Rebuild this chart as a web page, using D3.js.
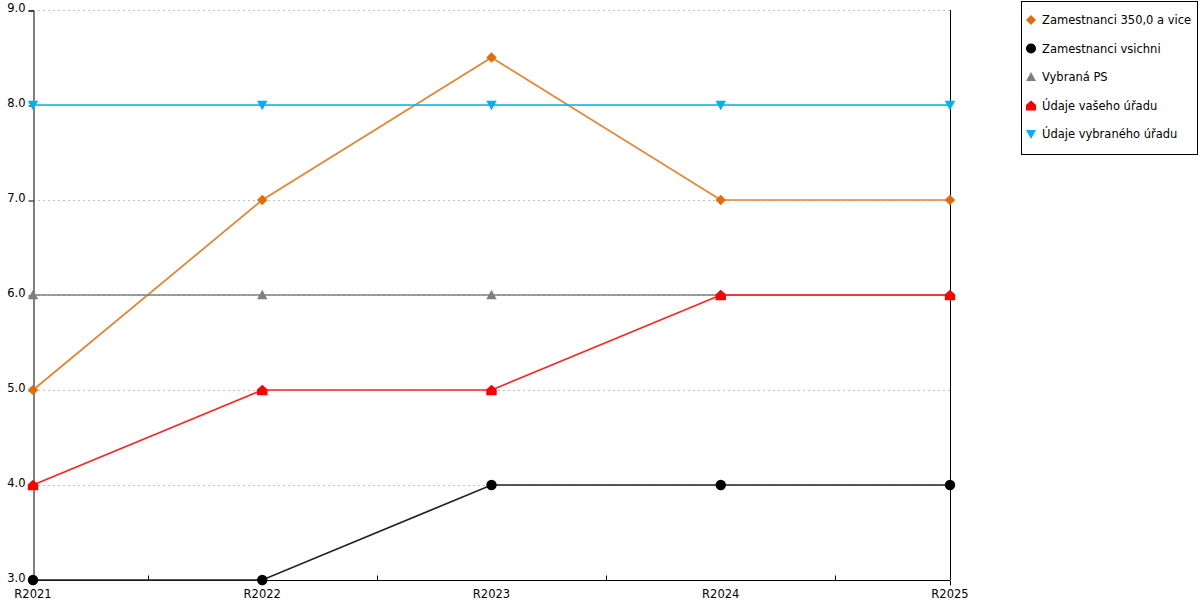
<!DOCTYPE html>
<html>
<head>
<meta charset="utf-8">
<script src="https://cdn.jsdelivr.net/npm/d3@7"></script>
<style>
  body { margin: 0; background: #fff; }
  text { font-family: "DejaVu Sans", sans-serif; font-size: 11.5px; fill: #000; }
</style>
</head>
<body>
<div id="chart"></div>
<script>
const width = 1200;
const height = 600;

// data
const categories = ["R2021", "R2022", "R2023", "R2024", "R2025"];
const seriesNames = ["Zamestnanci 350,0 a vice", "Zamestnanci vsichni", "Vybraná PS", "Údaje vašeho úřadu", "Údaje vybraného úřadu"];
const zam350 = [5, 7, 8.5, 7, 7];
const zamVsichni = [3, 3, 4, 4, 4];
const vybranaPS = [6, 6, 6, 6, 6];
const vasUrad = [4, 5, 5, 6, 6];
const vybranyUrad = [8, 8, 8, 8, 8];
const yTicks = [3, 4, 5, 6, 7, 8, 9];

const colors = ["#E36C0A", "#000000", "#7F7F7F", "#FF0000", "#00B0F0"];
const lineColors = ["#E8822E", "#222222", "#7F7F7F", "#FF2020", "#00B0F0"];
const shapes = ["diamond", "circle", "triangle", "house", "down"];
const seriesValues = [zam350, zamVsichni, vybranaPS, vasUrad, vybranyUrad];

const margin = { left: 33, right: 250, top: 10, bottom: 20 };

const svg = d3.select("#chart")
    .append("svg")
    .attr("width", width)
    .attr("height", height);

const x = d3.scalePoint()
    .domain(categories)
    .range([margin.left, width - margin.right]);

const y = d3.scaleLinear()
    .domain([3, 9])
    .range([height - margin.bottom, margin.top]);

// grid
svg.append("g")
    .selectAll("line")
    .data(yTicks.slice(1))
    .enter().append("line")
    .attr("x1", margin.left)
    .attr("x2", width - margin.right)
    .attr("y1", d => y(d) + 0.5)
    .attr("y2", d => y(d) + 0.5)
    .attr("stroke", "#c0c0c0")
    .attr("stroke-dasharray", "2,3");

// right border
svg.append("line")
    .attr("x1", width - margin.right + 0.5)
    .attr("x2", width - margin.right + 0.5)
    .attr("y1", margin.top)
    .attr("y2", height - margin.bottom)
    .attr("stroke", "#000");

// y axis
const yAxis = svg.append("g")
    .attr("transform", `translate(${margin.left + 0.5},0.5)`)
    .call(d3.axisLeft(y).tickValues(yTicks).tickFormat(d3.format(".1f")).tickSize(5).tickPadding(3));
yAxis.select(".domain").attr("stroke", "#000");
yAxis.selectAll("text").attr("dy", "0.1em").style("font-family", "DejaVu Sans").style("font-size", "11.5px").attr("fill", "#000");

// x axis: labels at points, small ticks between them
const xAxisG = svg.append("g")
    .attr("transform", `translate(0,${height - margin.bottom + 0.5})`);
xAxisG.append("line")
    .attr("x1", margin.left)
    .attr("x2", width - margin.right)
    .attr("stroke", "#000");
const step = x.step();
xAxisG.selectAll(".mid")
    .data(categories.slice(1))
    .enter().append("line")
    .attr("x1", d => Math.round(x(d) - step / 2) + 0.5)
    .attr("x2", d => Math.round(x(d) - step / 2) + 0.5)
    .attr("y1", -5)
    .attr("y2", 0)
    .attr("stroke", "#000");
xAxisG.selectAll(".end")
    .data([categories[categories.length - 1]])
    .enter().append("line")
    .attr("x1", d => x(d) + 0.5)
    .attr("x2", d => x(d) + 0.5)
    .attr("y1", 0)
    .attr("y2", 5)
    .attr("stroke", "#000");
xAxisG.selectAll("text")
    .data(categories)
    .enter().append("text")
    .attr("x", d => x(d))
    .attr("y", 17)
    .attr("text-anchor", "middle")
    .text(d => d);

function markerPath(shape, s) {
    const p = d3.path();
    if (shape === "diamond") {
        p.moveTo(0, -s); p.lineTo(s, 0); p.lineTo(0, s); p.lineTo(-s, 0); p.closePath();
    } else if (shape === "circle") {
        p.arc(0, 0, s, 0, 2 * Math.PI);
    } else if (shape === "triangle") {
        p.moveTo(0, -s); p.lineTo(s, s * 0.8); p.lineTo(-s, s * 0.8); p.closePath();
    } else if (shape === "house") {
        p.moveTo(0, -s); p.lineTo(s, -s * 0.1); p.lineTo(s, s); p.lineTo(-s, s); p.lineTo(-s, -s * 0.1); p.closePath();
    } else {
        p.moveTo(-s, -s * 0.8); p.lineTo(s, -s * 0.8); p.lineTo(0, s); p.closePath();
    }
    return p.toString();
}

const line = d3.line()
    .x((d, i) => x(categories[i]))
    .y(d => y(d));

const seriesG = svg.append("g");
seriesValues.forEach((vals, si) => {
    const g = seriesG.append("g");
    g.append("path")
        .datum(vals)
        .attr("d", line)
        .attr("fill", "none")
        .attr("stroke", lineColors[si])
        .attr("stroke-width", 1.7);
    g.selectAll("path.m")
        .data(vals)
        .enter().append("path")
        .attr("class", "m")
        .attr("transform", (d, i) => `translate(${x(categories[i])},${y(d)})`)
        .attr("d", markerPath(shapes[si], 5.2))
        .attr("fill", colors[si]);
});

// legend
const legend = svg.append("g");
legend.append("rect")
    .attr("x", 1021.5)
    .attr("y", 1.5)
    .attr("width", 176)
    .attr("height", 153)
    .attr("fill", "#fff")
    .attr("stroke", "#000");
seriesNames.forEach((name, i) => {
    const ly = 20 + i * 28.5;
    legend.append("path")
        .attr("transform", `translate(1031,${ly})`)
        .attr("d", markerPath(shapes[i], 5))
        .attr("fill", colors[i]);
    legend.append("text")
        .attr("x", 1042)
        .attr("y", ly + 4)
        .text(name);
});
</script>
</body>
</html>
